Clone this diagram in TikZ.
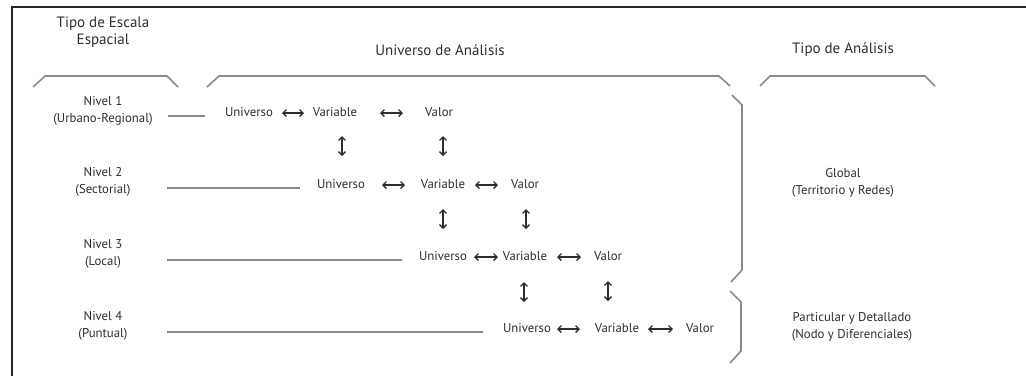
\documentclass[tikz,border=0pt]{standalone}
\usepackage{fontspec}
\setmainfont{PT Sans}
\usetikzlibrary{arrows.meta}
\definecolor{txt}{HTML}{2E2E2E}
\definecolor{ln}{HTML}{8A8A8A}
\begin{document}
\begin{tikzpicture}[x=1pt,y=-1pt,
  lbl/.style={font=\fontsize{12.8}{16.5}\selectfont, text=txt, inner sep=0pt, align=center},
  head/.style={font=\fontsize{15}{17}\selectfont, text=txt, inner sep=0pt, align=center},
  item/.style={font=\fontsize{12.8}{14}\selectfont, text=txt, inner sep=0pt},
  guide/.style={draw=ln, line width=1.8pt},
  brk/.style={draw=ln, line width=1.6pt, line join=miter},
  frame/.style={draw=black!85, line width=1.6pt},
  dbl/.style={draw=txt, line width=1.3pt, {Straight Barb[length=3.5pt,width=7pt]}-{Straight Barb[length=3.5pt,width=7pt]}}
]
\useasboundingbox (0,0) rectangle (1026,376);
% frame
\draw[frame] (12,376) -- (12,7) -- (1026,7);

% headings
\node[head] (h1) at (103,32) {Tipo de Escala\\Espacial};
\node[head] (h2) at (440,50) {Universo de Análisis};
\node[head] (h3) at (843,50) {Tipo de Análisis};

% top brackets
\draw[brk] (33,87) -- (45,76) -- (167,76) -- (178,87);
\draw[brk] (207,87) -- (219,76) -- (719,76) -- (730,86);
\draw[brk] (760,86) -- (770,76) -- (925,76) -- (935,86);

% right brackets
\draw[brk] (732,95) -- (742,105) -- (742,270) -- (731,282);
\draw[brk] (730,291) -- (741,302) -- (741,351) -- (730,363);

% level labels
\node[lbl] (n1) at (103,111) {Nivel 1\\(Urbano-Regional)};
\node[lbl] (n2) at (103,182) {Nivel 2\\(Sectorial)};
\node[lbl] (n3) at (103,254) {Nivel 3\\(Local)};
\node[lbl] (n4) at (103,326) {Nivel 4\\(Puntual)};

% right labels
\node[lbl] (g) at (843,183) {Global\\(Territorio y Redes)};
\node[lbl] (p) at (852,327) {Particular y Detallado\\(Nodo y Diferenciales)};

% row 1
\node[item] (u1) at (249,112) {Universo};
\node[item] (v1) at (335,112) {Variable};
\node[item] (w1) at (439,112) {Valor};
% row 2
\node[item] (u2) at (341,184) {Universo};
\node[item] (v2) at (443,184) {Variable};
\node[item] (w2) at (525,184) {Valor};
% row 3
\node[item] (u3) at (443,256) {Universo};
\node[item] (v3) at (525,256) {Variable};
\node[item] (w3) at (608,256) {Valor};
% row 4
\node[item] (u4) at (527,328) {Universo};
\node[item] (v4) at (617,328) {Variable};
\node[item] (w4) at (700,328) {Valor};

% guide lines
\coordinate (g1a) at (168,116); \coordinate (g1b) at (205,116);
\coordinate (g2a) at (167,188); \coordinate (g2b) at (300,188);
\coordinate (g3a) at (167,260); \coordinate (g3b) at (402,260);
\coordinate (g4a) at (167,332); \coordinate (g4b) at (483,332);
\draw[guide] (g1a) -- (g1b);
\draw[guide] (g2a) -- (g2b);
\draw[guide] (g3a) -- (g3b);
\draw[guide] (g4a) -- (g4b);

% horizontal double arrows
\coordinate (a1a) at (282,113); \coordinate (a1b) at (304,113);
\coordinate (a1c) at (380,113); \coordinate (a1d) at (403,113);
\coordinate (a2a) at (382,185); \coordinate (a2b) at (405,185);
\coordinate (a2c) at (475,185); \coordinate (a2d) at (498,185);
\coordinate (a3a) at (474,257); \coordinate (a3b) at (498,257);
\coordinate (a3c) at (557,257); \coordinate (a3d) at (581,257);
\coordinate (a4a) at (557,329); \coordinate (a4b) at (580,329);
\coordinate (a4c) at (648,329); \coordinate (a4d) at (673,329);
\draw[dbl] (a1a) -- (a1b);
\draw[dbl] (a1c) -- (a1d);
\draw[dbl] (a2a) -- (a2b);
\draw[dbl] (a2c) -- (a2d);
\draw[dbl] (a3a) -- (a3b);
\draw[dbl] (a3c) -- (a3d);
\draw[dbl] (a4a) -- (a4b);
\draw[dbl] (a4c) -- (a4d);

% vertical double arrows
\coordinate (b1a) at (342,136); \coordinate (b1b) at (342,156);
\coordinate (b1c) at (443,136); \coordinate (b1d) at (443,156);
\coordinate (b2a) at (443,209); \coordinate (b2b) at (443,229);
\coordinate (b2c) at (526,209); \coordinate (b2d) at (526,229);
\coordinate (b3a) at (524,282); \coordinate (b3b) at (524,302);
\coordinate (b3c) at (608,281); \coordinate (b3d) at (608,301);
\draw[dbl] (b1a) -- (b1b);
\draw[dbl] (b1c) -- (b1d);
\draw[dbl] (b2a) -- (b2b);
\draw[dbl] (b2c) -- (b2d);
\draw[dbl] (b3a) -- (b3b);
\draw[dbl] (b3c) -- (b3d);
\end{tikzpicture}
\end{document}
